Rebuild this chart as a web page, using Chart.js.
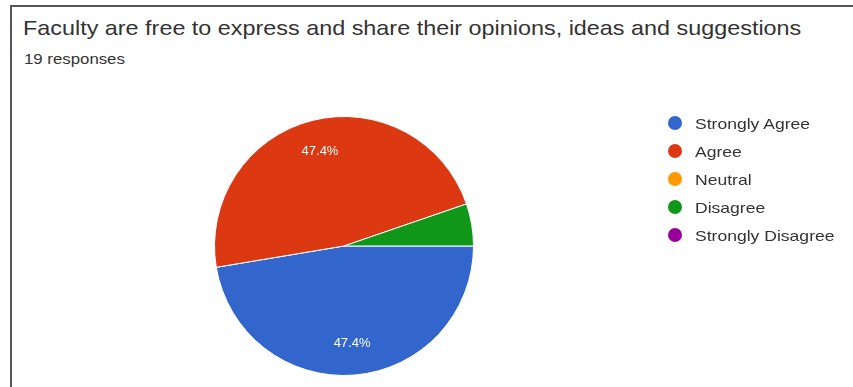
<!DOCTYPE html>
<html>
<head>
<meta charset="utf-8">
<script src="https://cdn.jsdelivr.net/npm/chart.js@4/dist/chart.umd.min.js"></script>
<style>
  html, body { margin: 0; padding: 0; background: #fff; }
  body { width: 853px; height: 387px; position: relative; overflow: hidden; font-family: "Liberation Sans", Arial, sans-serif; }
  .frame { position: absolute; left: 10px; top: 5px; width: 860px; height: 400px; border-left: 2px solid #555; border-top: 2px solid #555; }
  .title { position: absolute; left: 23px; top: 16px; font-size: 21px; color: #333; white-space: nowrap; transform: scaleX(1.113); transform-origin: 0 0; }
  .sub { position: absolute; left: 24px; top: 51px; font-size: 14px; color: #333; white-space: nowrap; transform: scaleX(1.2); transform-origin: 0 0; }
  .wrap { position: absolute; left: 0; top: 0; width: 853px; height: 387px; }
  #legend { position: absolute; left: 668px; top: 109px; margin: 0; padding: 0; list-style: none; }
  #legend li { height: 28px; display: flex; align-items: center; font-size: 15px; color: #333; }
  #legend span.dot { display: inline-block; width: 14px; height: 14px; border-radius: 50%; margin-right: 13px; }
  #legend span.txt { display: inline-block; white-space: nowrap; transform: scaleX(1.17); transform-origin: 0 50%; }
</style>
</head>
<body>
<div class="frame"></div>
<div class="title">Faculty are free to express and share their opinions, ideas and suggestions</div>
<div class="sub">19 responses</div>
<div class="wrap"><canvas id="pie"></canvas></div>
<ul id="legend"></ul>
<script>
// answers and counts (19 responses)
const categories = ['Strongly Agree', 'Agree', 'Neutral', 'Disagree', 'Strongly Disagree'];
const counts = [9, 9, 0, 1, 0];
const colors = ['#3366cc', '#dc3912', '#ff9900', '#109618', '#990099'];

// white percentage text inside the bigger slices
const sliceLabels = {
    id: 'sliceLabels',
    afterDatasetsDraw(chart) {
        const ctx = chart.ctx;
        const meta = chart.getDatasetMeta(0);
        const total = counts.reduce((a, b) => a + b, 0);
        ctx.save();
        ctx.font = '13px "Liberation Sans", Arial, sans-serif';
        ctx.fillStyle = '#fff';
        ctx.textAlign = 'center';
        ctx.textBaseline = 'middle';
        meta.data.forEach((arc, i) => {
            const pct = counts[i] / total * 100;
            if (pct < 8) return;
            const p = arc.getProps(['x', 'y', 'startAngle', 'endAngle', 'outerRadius'], true);
            const mid = (p.startAngle + p.endAngle) / 2;
            const r = p.outerRadius * 0.755;
            ctx.fillText(pct.toFixed(1) + '%', p.x + Math.cos(mid) * r, p.y + Math.sin(mid) * r);
        });
        ctx.restore();
    }
};

const chart = new Chart(document.getElementById('pie').getContext('2d'), {
    type: 'pie',
    data: {
        labels: categories,
        datasets: [{ data: counts, backgroundColor: colors, borderColor: '#fff', borderWidth: 1 }]
    },
    options: {
        responsive: true,
        maintainAspectRatio: false,
        animation: false,
        rotation: 90,
        layout: { padding: { left: 214, right: 379, top: 116, bottom: 11 } },
        plugins: { legend: { display: false }, tooltip: { enabled: false } }
    },
    plugins: [sliceLabels]
});

// html legend from the chart's own label items
const ul = document.getElementById('legend');
chart.options.plugins.legend.labels.generateLabels(chart).forEach(item => {
    const li = document.createElement('li');
    const dot = document.createElement('span');
    dot.className = 'dot';
    dot.style.background = item.fillStyle;
    const txt = document.createElement('span');
    txt.className = 'txt';
    txt.textContent = item.text;
    li.appendChild(dot);
    li.appendChild(txt);
    ul.appendChild(li);
});
</script>
</body>
</html>
